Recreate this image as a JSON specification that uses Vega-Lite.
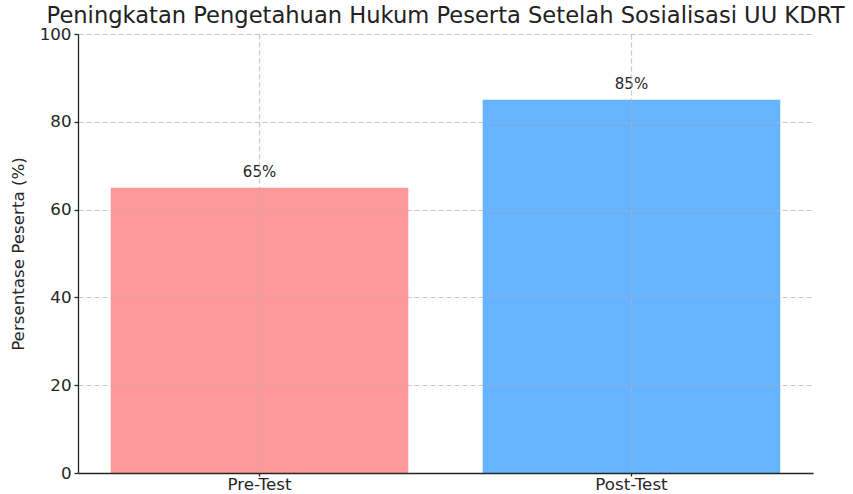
{
  "$schema": "https://vega.github.io/schema/vega-lite/v6.json",
  "width": 735,
  "height": 439,
  "autosize": {"type": "none"},
  "padding": {"left": 78, "top": 34, "right": 40, "bottom": 21},
  "background": "white",
  "config": {
    "view": {"stroke": null},
    "font": "DejaVu Sans"
  },
  "title": {
    "text": "Peningkatan Pengetahuan Hukum Peserta Setelah Sosialisasi UU KDRT",
    "anchor": "middle",
    "frame": "group",
    "fontSize": 22.6,
    "fontWeight": "normal",
    "font": "DejaVu Sans",
    "color": "#222",
    "baseline": "alphabetic",
    "offset": 0,
    "dy": 20
  },
  "data": {
    "values": [
      {"kategori": "Pre-Test", "persen": 65, "label": "65%"},
      {"kategori": "Post-Test", "persen": 85, "label": "85%"}
    ]
  },
  "encoding": {
    "x": {
      "field": "kategori",
      "type": "nominal",
      "sort": ["Pre-Test", "Post-Test"],
      "scale": {"paddingInner": 0.2, "paddingOuter": 0.088},
      "axis": {
        "title": null,
        "labelAngle": 0,
        "labelFont": "DejaVu Sans",
        "labelFontSize": 16.7,
        "labelColor": "#262626",
        "labelPadding": 0,
        "domainColor": "#262626",
        "domainWidth": 1.3,
        "tickColor": "#262626",
        "tickWidth": 1.3,
        "tickSize": 3,
        "grid": true,
        "gridColor": "#b0b0b0",
        "gridOpacity": 0.7,
        "gridDash": [5, 3],
        "gridWidth": 1.2,
        "zindex": 1
      }
    },
    "y": {
      "field": "persen",
      "type": "quantitative",
      "scale": {"domain": [0, 100], "nice": false},
      "axis": {
        "title": "Persentase Peserta (%)",
        "titleFont": "DejaVu Sans",
        "titleFontSize": 16.7,
        "titleFontWeight": "normal",
        "titleColor": "#262626",
        "titlePadding": 12,
        "values": [0, 20, 40, 60, 80, 100],
        "labelFont": "DejaVu Sans",
        "labelFontSize": 16.7,
        "labelColor": "#262626",
        "labelPadding": 3,
        "domainColor": "#262626",
        "domainWidth": 1.3,
        "tickColor": "#262626",
        "tickWidth": 1.3,
        "tickSize": 4,
        "grid": true,
        "gridColor": "#b0b0b0",
        "gridOpacity": 0.7,
        "gridDash": [5, 3],
        "gridWidth": 1.2,
        "zindex": 1
      }
    }
  },
  "layer": [
    {
      "mark": {"type": "bar"},
      "encoding": {
        "color": {
          "field": "kategori",
          "type": "nominal",
          "scale": {"domain": ["Pre-Test", "Post-Test"], "range": ["#ff9999", "#66b3ff"]},
          "legend": null
        }
      }
    },
    {
      "mark": {"type": "text", "baseline": "alphabetic", "dy": -11, "fontSize": 15, "font": "DejaVu Sans", "color": "#262626"},
      "encoding": {"text": {"field": "label"}}
    }
  ]
}
